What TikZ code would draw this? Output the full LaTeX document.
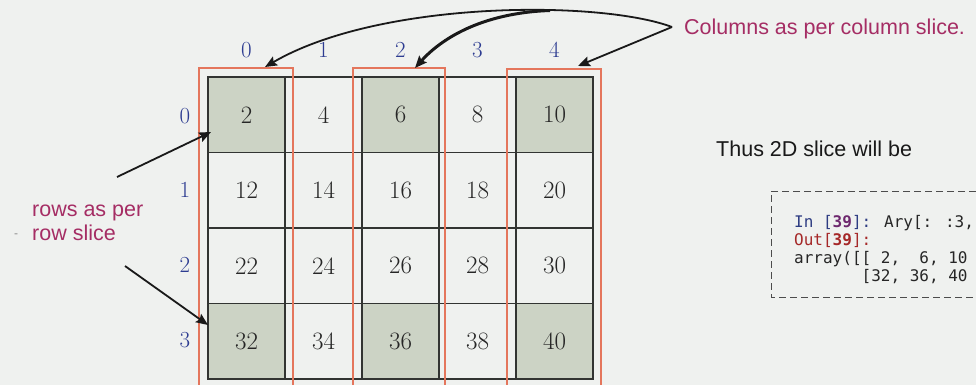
\documentclass[tikz,border=0pt]{standalone}
\usepackage{fontspec}
\usetikzlibrary{arrows.meta}
\newfontfamily\sansf{Liberation Sans}
\newfontfamily\monof{DejaVu Sans Mono}
\definecolor{bgcol}{RGB}{239,241,239}
\definecolor{shadecol}{RGB}{204,211,197}
\definecolor{gridcol}{RGB}{50,52,50}
\definecolor{framecol}{RGB}{228,118,92}
\definecolor{idxcol}{RGB}{45,60,145}
\definecolor{pinkcol}{RGB}{165,45,100}
\definecolor{arrcol}{RGB}{25,25,25}
\definecolor{incol}{RGB}{45,60,130}
\definecolor{numcol}{RGB}{110,40,110}
\definecolor{outcol}{RGB}{165,40,40}
\tikzset{
  cell/.style={draw=gridcol, line width=1.3pt, minimum width=77pt, minimum height=75.5pt, inner sep=0pt, font=\fontsize{25}{28}\selectfont, text=black!85},
  idx/.style={text=idxcol, inner sep=0pt, font=\fontsize{23}{25}\selectfont},
  redframe/.style={draw=framecol, line width=1.1pt},
  sanstxt/.style={inner sep=0pt, font=\sansf\fontsize{21.5}{24}\selectfont},
  codetxt/.style={inner sep=0pt, font=\monof\fontsize{16}{18}\selectfont, text=black!85},
  arr/.style={draw=arrcol, line width=1.8pt, -{Stealth[length=12pt,width=10pt,inset=2pt]}},
  codebox/.style={draw=black!70, line width=0.9pt, dash pattern=on 7pt off 4pt}
}
\begin{document}
\begin{tikzpicture}[x=1pt,y=-1pt]
\useasboundingbox (0,0) rectangle (976,385);
\fill[bgcol] (0,0) rectangle (976,385);
% grid cells
\foreach \r in {0,...,3}{
  \foreach \c in {0,...,4}{
    \pgfmathtruncatemacro\v{2+2*(5*\r+\c)}
    \pgfmathtruncatemacro\sh{((\r==0)||(\r==3))&&((\c==0)||(\c==2)||(\c==4))}
    \ifnum\sh=1 \def\cf{shadecol}\else\def\cf{none}\fi
    \node[cell, fill=\cf] (c\r\c) at ({246.5+77*\c},{114.75+75.5*\r}) {\v};
  }
}
% red column frames
\draw[redframe] (199,385) -- (199,68) -- (293,68) -- (293,385);
\draw[redframe] (353,385) -- (353,68) -- (445,68) -- (445,385);
\draw[redframe] (507,385) -- (507,69) -- (601,69) -- (601,385);
% column indices
\foreach \c in {0,...,4}{
  \node[idx] (k\c) at ({246.5+77*\c},50) {\c};
}
% row indices
\node[idx] (r0) at (185,116) {0};
\node[idx] (r1) at (185,190) {1};
\node[idx] (r2) at (185,265) {2};
\node[idx] (r3) at (185,340) {3};
% labels
\node[sanstxt, text=pinkcol, anchor=base west] (colslice) at (684,35) {Columns as per column slice.};
\node[sanstxt, text=pinkcol, anchor=base west, align=left] (rowslice) at (32,240) {rows as per\\row slice};
\node[inner sep=0pt, text=black!45, font=\sansf\fontsize{12}{12}\selectfont] (dash) at (16,236) {-};
\node[sanstxt, text=black!90, anchor=base west] (thus) at (716,156) {Thus 2D slice will be};
% code box
\draw[codebox] (976,191) -- (771,191) -- (771,297) -- (976,297);
\node[codetxt, anchor=base west] (l1) at (794,227) {\textcolor{incol}{In [\textbf{\textcolor{numcol}{39}}]:} Ary[: :3,};
\node[codetxt, anchor=base west] (l2) at (794,245) {\textcolor{outcol}{Out[\textbf{39}]:}};
\node[codetxt, anchor=base west] (l3) at (794,263) {array([[ 2,\ \ 6, 10};
\node[codetxt, anchor=base west] (l4) at (794,281) {\ \ \ \ \ \ \ [32, 36, 40};
% arrows
\coordinate (apex) at (672,27);
\coordinate (br) at (550,10.5);
\coordinate (t0) at (265,67);
\coordinate (t2) at (415,68);
\coordinate (t4) at (578,66);
\draw[arr] (apex) .. controls (600,0) and (380,0) .. (t0);
\draw[arr, line width=3pt] (br) .. controls (480,13) and (440,40) .. (t2);
\draw[arr] (apex) -- (t4);
\coordinate (rs0) at (117,177);
\coordinate (re0) at (211,132);
\coordinate (rs3) at (125,266);
\coordinate (re3) at (208,325);
\draw[arr] (rs0) -- (re0);
\draw[arr] (rs3) -- (re3);
\end{tikzpicture}
\end{document}
